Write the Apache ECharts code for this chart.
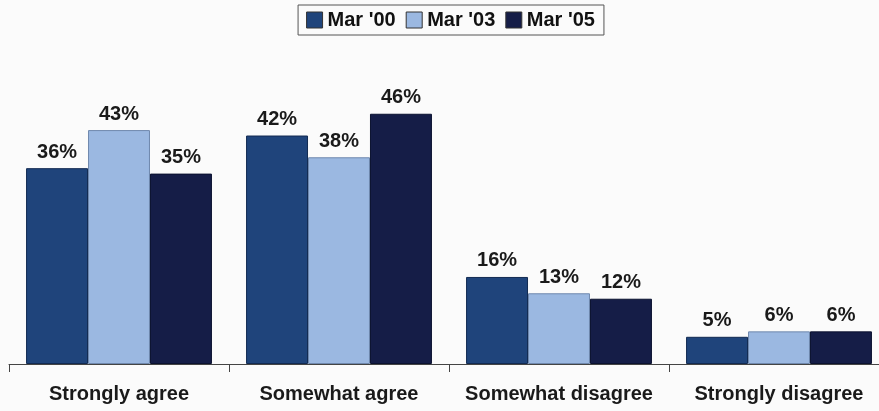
<!DOCTYPE html>
<html>
<head>
<meta charset="utf-8">
<script src="https://cdn.jsdelivr.net/npm/echarts@6/dist/echarts.min.js"></script>
<style>
  html, body { margin: 0; padding: 0; background: #fbfbfb; overflow: hidden; }
  #chart { width: 901px; height: 411px; }
</style>
</head>
<body>
<div id="chart"></div>
<script>
// Survey responses by wave (percent)
const categories = ['Strongly agree', 'Somewhat agree', 'Somewhat disagree', 'Strongly disagree'];
const seriesNames = ["Mar '00", "Mar '03", "Mar '05"];
const mar00 = [36, 42, 16, 5];
const mar03 = [43, 38, 13, 6];
const mar05 = [35, 46, 12, 6];

const colors = ['#1f447b', '#9bb8e1', '#151d47'];
const borders = ['#122a52', '#6f88ad', '#0b1230'];
const font = 'Liberation Sans, Arial, sans-serif';

const chart = echarts.init(document.getElementById('chart'));

const makeSeries = (name, data, i) => ({
  name: name,
  type: 'bar',
  data: data,
  barGap: '0%',
  barCategoryGap: '15.5%',
  itemStyle: { color: colors[i], borderColor: borders[i], borderWidth: 1 },
  label: {
    show: true,
    position: 'top',
    distance: 6,
    formatter: '{c}%',
    fontFamily: font,
    fontWeight: 'bold',
    fontSize: 20,
    color: '#1a1a1a'
  }
});

chart.setOption({
  backgroundColor: '#fbfbfb',
  animation: false,
  legend: {
    top: 5,
    left: 'center',
    icon: 'rect',
    itemWidth: 16,
    itemHeight: 16,
    itemGap: 10,
    padding: [5, 9, 5, 8],
    borderColor: '#555',
    borderWidth: 1,
    textStyle: {
      fontFamily: font,
      fontWeight: 'bold',
      fontSize: 20,
      color: '#111'
    },
    data: seriesNames.map((n, i) => ({ name: n, itemStyle: { color: colors[i], borderColor: '#333', borderWidth: 1 } }))
  },
  grid: { left: 9, right: 12, top: 92, bottom: 47 },
  xAxis: {
    type: 'category',
    data: categories,
    axisLine: { lineStyle: { color: '#444', width: 1 } },
    axisTick: { show: true, length: 8, lineStyle: { color: '#444' } },
    axisLabel: {
      interval: 0,
      margin: 20,
      fontFamily: font,
      fontWeight: 'bold',
      fontSize: 20,
      color: '#1a1a1a'
    }
  },
  yAxis: {
    type: 'value',
    min: 0,
    max: 50,
    show: false,
    splitLine: { show: false }
  },
  series: [
    makeSeries(seriesNames[0], mar00, 0),
    makeSeries(seriesNames[1], mar03, 1),
    makeSeries(seriesNames[2], mar05, 2)
  ]
});
</script>
</body>
</html>
